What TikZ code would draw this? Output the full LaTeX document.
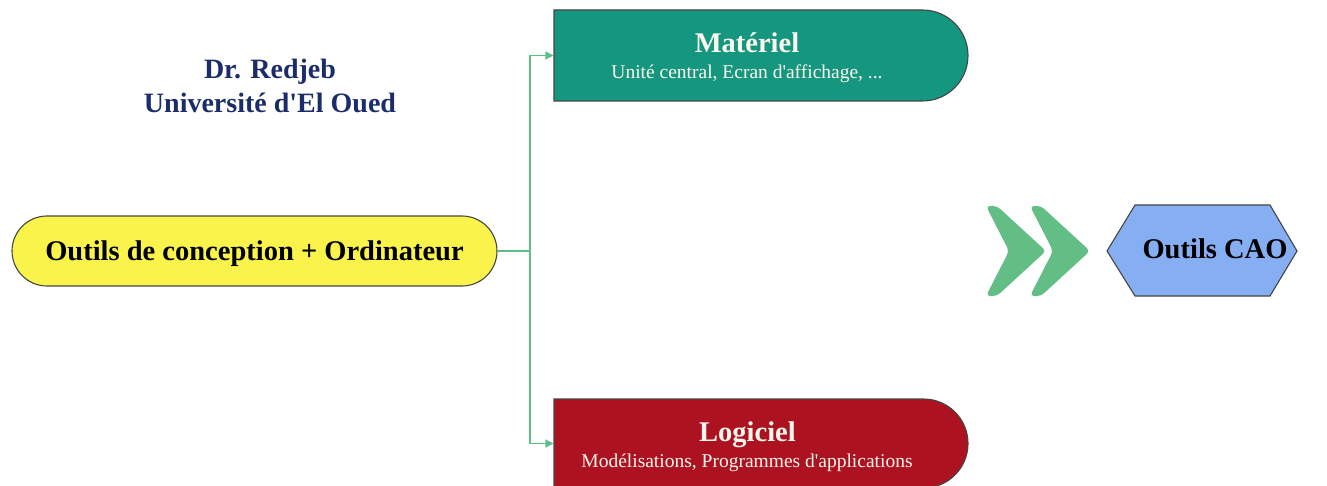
\documentclass[tikz,border=0pt]{standalone}
\usepackage{fontspec}
\setmainfont{Liberation Serif}[Ligatures=TeXOff]
\usetikzlibrary{shapes.misc,arrows.meta}

\definecolor{sunyellow}{HTML}{F9F34B}
\definecolor{tealbox}{HTML}{15967F}
\definecolor{crimsonbox}{HTML}{AD1220}
\definecolor{skyblue}{HTML}{86AEF2}
\definecolor{linkgreen}{HTML}{5CBF88}
\definecolor{chevgreen}{HTML}{63BE86}
\definecolor{navytext}{HTML}{1B2C6B}
\definecolor{edgegray}{HTML}{454545}
\definecolor{lighttext}{HTML}{FBF7EE}

\tikzset{
  outline/.style={draw=edgegray, line width=1.1pt},
  pill/.style={outline, rounded rectangle, inner sep=0pt},
  tabbox/.style={outline, rounded rectangle, rounded rectangle left arc=none, inner sep=0pt,
                 minimum width=414pt},
  titletext/.style={font=\fontsize{28.5}{30}\selectfont\bfseries, inner sep=0pt},
  subtext/.style={font=\fontsize{19.5}{22}\selectfont, inner sep=0pt},
  headtext/.style={font=\fontsize{28}{30}\selectfont\bfseries, text=navytext, inner sep=0pt, anchor=base},
  link/.style={draw=linkgreen, line width=1.4pt},
  linkarrow/.style={link, -{Triangle[length=8pt,width=8pt]}},
  chevron/.style={fill=chevgreen, rounded corners=4pt},
}

\begin{document}
\begin{tikzpicture}[x=1pt, y=-1pt]
  \useasboundingbox (0,0) rectangle (1327,486);
  \clip (0,0) rectangle (1327,486);

  % author header
  \node[headtext] (hname) at (270,79) {Dr. Redjeb};
  \node[headtext] (huniv) at (270,113) {Université d'El Oued};

  % source node
  \node[pill, fill=sunyellow, minimum width=485pt, minimum height=70pt,
        titletext, text=black, text height=19pt, text depth=0pt] (src) at (254.5,251)
        {Outils de conception + Ordinateur};

  % hardware branch
  \node[tabbox, fill=tealbox, minimum height=91pt] (mat) at (761,55.5) {};
  \node[titletext, text=lighttext, anchor=base] (mattitle) at (747,52.5) {Matériel};
  \node[subtext, text=lighttext, anchor=base] (matsub) at (747,78.5) {Unité central, Ecran d'affichage, ...};

  % software branch
  \node[tabbox, fill=crimsonbox, minimum height=89pt] (log) at (761,443.5) {};
  \node[titletext, text=lighttext, anchor=base] (logtitle) at (747.5,441) {Logiciel};
  \node[subtext, text=lighttext, anchor=base] (logsub) at (747,467) {Modélisations, Programmes d'applications};

  % branching connector
  \coordinate (fork) at (530,251);
  \draw[link] (src.east) -- (fork);
  \draw[linkarrow] (fork) |- (mat.west);
  \draw[linkarrow] (fork) |- (log.west);

  % double chevron
  \foreach \x in {986,1030}{
    \fill[chevron]
      (\x,206) -- (\x+11,206) -- (\x+60,251) -- (\x+11,296) -- (\x,296) -- (\x+23,251) -- cycle;
  }

  % result hexagon
  \draw[outline, fill=skyblue]
    (1107,251) -- (1135,205) -- (1270,205) -- (1297,251) -- (1270,296) -- (1135,296) -- cycle;
  \node[titletext, text=black, anchor=base] (cao) at (1215,258.5) {Outils CAO};
\end{tikzpicture}
\end{document}
